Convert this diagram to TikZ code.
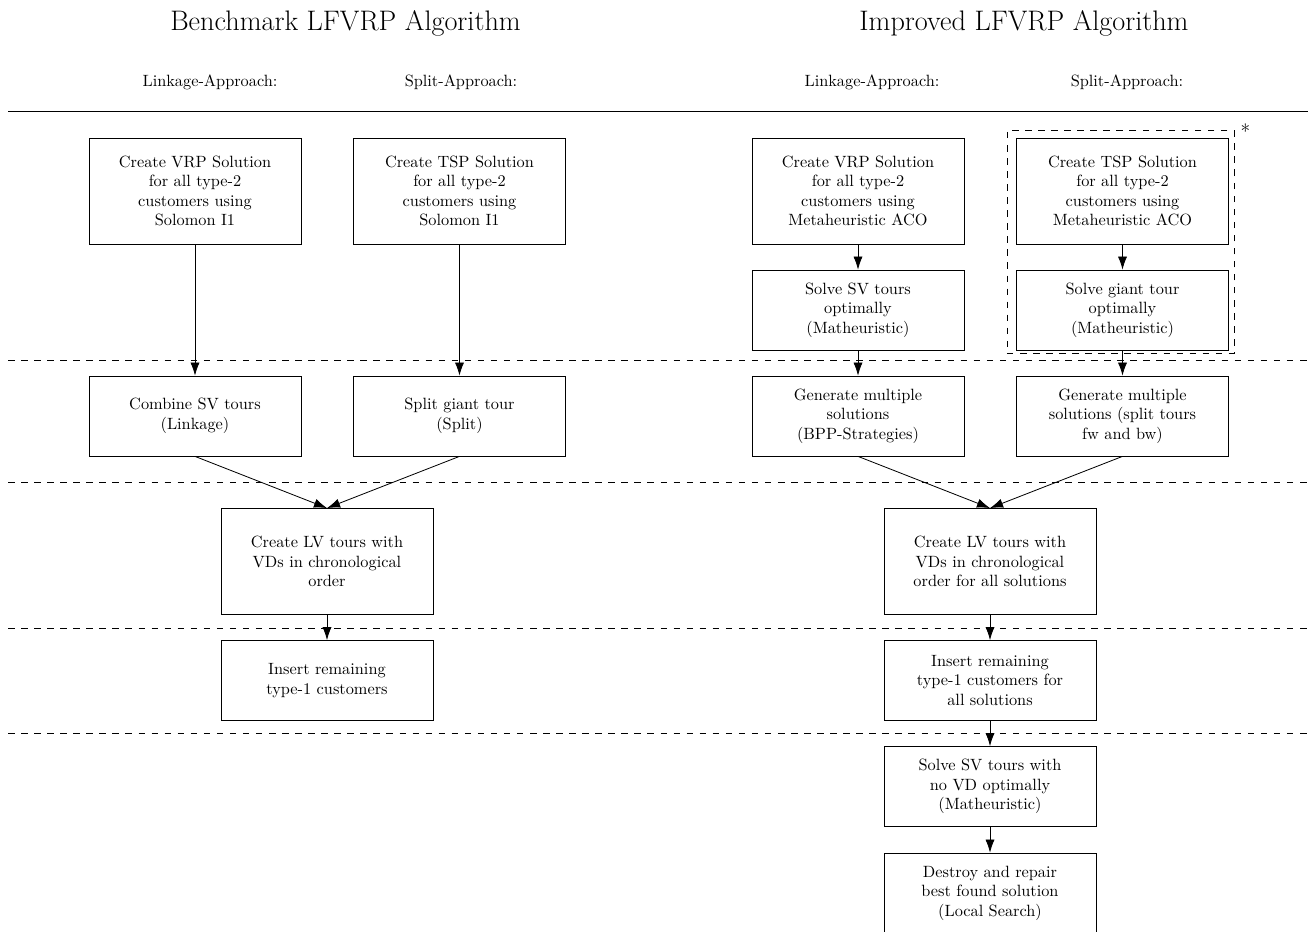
\documentclass[tikz,border=0pt]{standalone}
\usetikzlibrary{arrows.meta}
\begin{document}
\begin{tikzpicture}[x=0.613pt,y=-0.613pt,
  stepbox/.style={draw,line width=0.5pt,align=center,inner sep=0pt,
    minimum width=130pt},
  tall/.style={stepbox,minimum height=65pt},
  short/.style={stepbox,minimum height=49pt},
  heading/.style={font=\fontsize{17.3}{20}\selectfont},
  subhead/.style={font=\normalsize},
  flow/.style={line width=0.5pt,-{Latex[length=8pt,width=5.6pt]}},
  phase/.style={line width=0.5pt,dash pattern=on 4pt off 4pt},
]
\clip (0,0) rectangle (1308,931);

% headings
\node[heading] (tb) at (345.5,23) {Benchmark LFVRP Algorithm};
\node[heading] (ti) at (1024,23) {Improved LFVRP Algorithm};
\node[subhead] (hbl) at (210,82) {Linkage-Approach:};
\node[subhead] (hbs) at (461,82) {Split-Approach:};
\node[subhead] (hil) at (872,82) {Linkage-Approach:};
\node[subhead] (his) at (1127,82) {Split-Approach:};

% separators between the phases
\coordinate (s0l) at (8,111);   \coordinate (s0r) at (1308,111);
\coordinate (s1l) at (8,360.5); \coordinate (s1r) at (1308,360.5);
\coordinate (s2l) at (8,482);   \coordinate (s2r) at (1308,482);
\coordinate (s3l) at (8,628);   \coordinate (s3r) at (1308,628);
\coordinate (s4l) at (8,733.5); \coordinate (s4r) at (1308,733.5);
\draw[line width=0.5pt] (s0l) -- (s0r);
\draw[phase] (s1l) -- (s1r);
\draw[phase] (s2l) -- (s2r);
\draw[phase] (s3l) -- (s3r);
\draw[phase] (s4l) -- (s4r);

% benchmark algorithm
\node[tall]  (bvrp) at (195,191)   {Create VRP Solution\\for all type-2\\customers using\\Solomon I1};
\node[tall]  (btsp) at (459.5,191) {Create TSP Solution\\for all type-2\\customers using\\Solomon I1};
\node[short] (bcomb) at (195,416)  {Combine SV tours\\(Linkage)};
\node[short] (bsplit) at (459.5,416) {Split giant tour\\(Split)};
\node[tall]  (blv) at (327,561.5)  {Create LV tours with\\VDs in chronological\\order};
\node[short] (bins) at (327,680.5) {Insert remaining\\type-1 customers};

\draw[flow] (bvrp) -- (bcomb);
\draw[flow] (btsp) -- (bsplit);
\draw[flow] (bcomb.south) -- (blv.north);
\draw[flow] (bsplit.south) -- (blv.north);
\draw[flow] (blv) -- (bins);

% improved algorithm
\node[tall]  (ivrp) at (858,191)    {Create VRP Solution\\for all type-2\\customers using\\Metaheuristic ACO};
\node[short] (isv) at (858,310)     {Solve SV tours\\optimally\\(Matheuristic)};
\node[tall]  (itsp) at (1122.5,191) {Create TSP Solution\\for all type-2\\customers using\\Metaheuristic ACO};
\node[short] (igiant) at (1122.5,310) {Solve giant tour\\optimally\\(Matheuristic)};
\node[short] (ibpp) at (858,416)    {Generate multiple\\solutions\\(BPP-Strategies)};
\node[short] (ifwbw) at (1122.5,416) {Generate multiple\\solutions (split tours\\fw and bw)};
\node[tall]  (ilv) at (990,561.5)   {Create LV tours with\\VDs in chronological\\order for all solutions};
\node[short] (iins) at (990,680.5)  {Insert remaining\\type-1 customers for\\all solutions};
\node[short] (isv2) at (990,786.5)  {Solve SV tours with\\no VD optimally\\(Matheuristic)};
\node[short] (ids) at (990,893)     {Destroy and repair\\best found solution\\(Local Search)};

% group around the split-approach preprocessing
\node[draw,phase,inner sep=0pt,minimum width=139.2pt,minimum height=136.7pt]
  (grp) at (1120.5,242) {};
\node[inner sep=0pt,font=\large] (star) at (1245.5,131) {*};

\draw[flow] (ivrp) -- (isv);
\draw[flow] (isv) -- (ibpp);
\draw[flow] (itsp) -- (igiant);
\draw[flow] (igiant) -- (ifwbw);
\draw[flow] (ibpp.south) -- (ilv.north);
\draw[flow] (ifwbw.south) -- (ilv.north);
\draw[flow] (ilv) -- (iins);
\draw[flow] (iins) -- (isv2);
\draw[flow] (isv2) -- (ids);
\end{tikzpicture}
\end{document}
